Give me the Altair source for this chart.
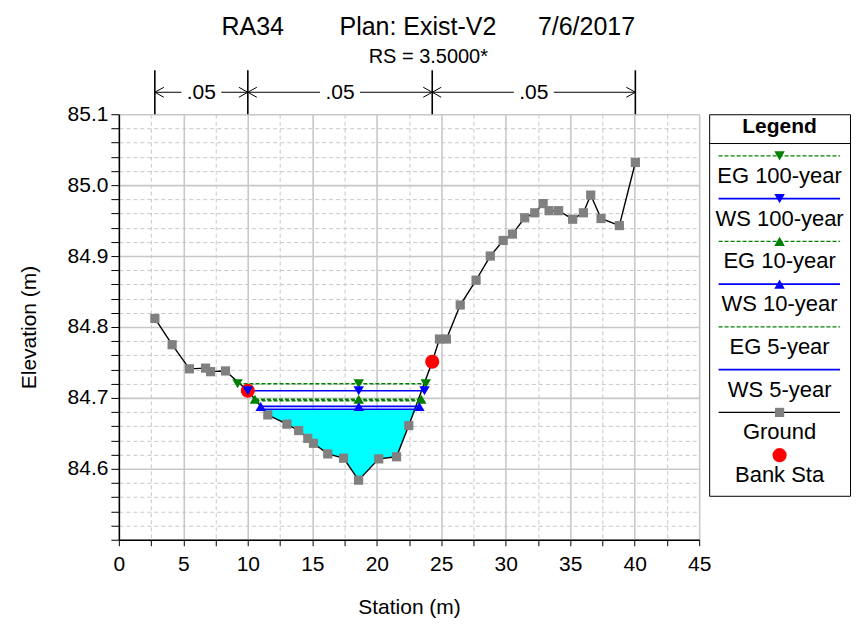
import altair as alt
import pandas as pd

# ---------------- data ----------------
TITLE = "RA34" + "\u00a0" * 8 + "Plan: Exist-V2" + "\u00a0" * 6 + "7/6/2017"
SUBTITLE = "RS = 3.5000*"

GROUND_STA = [2.79, 4.13, 5.47, 6.72, 7.11, 8.27, 10.0, 11.55, 13.03, 13.94, 14.65,
              15.09, 16.2, 17.42, 18.59, 20.15, 21.53, 22.48, 24.3, 24.86, 25.4,
              26.47, 27.7, 28.8, 29.8, 30.52, 31.47, 32.25, 32.9, 33.36, 34.1,
              35.19, 36.02, 36.59, 37.39, 38.81, 40.05]
GROUND_ELEV = [84.812, 84.775, 84.741, 84.742, 84.737, 84.738, 84.710, 84.676,
               84.663, 84.654, 84.643, 84.636, 84.621, 84.615, 84.584, 84.614,
               84.617, 84.661, 84.751, 84.783, 84.783, 84.831, 84.866, 84.900,
               84.922, 84.931, 84.954, 84.961, 84.974, 84.964, 84.964, 84.952,
               84.961, 84.986, 84.953, 84.943, 85.032]

BANK_STA = [10.0, 24.3]
BANK_ELEV = [84.710, 84.751]

PROFILES = ["EG 100-year", "WS 100-year", "EG 10-year", "WS 10-year", "EG 5-year", "WS 5-year"]
PROFILE_KIND = ["EG", "WS", "EG", "WS", "EG", "WS"]
PROFILE_ELEV = [84.720, 84.710, 84.698, 84.688, 84.696, 84.684]
PROFILE_LEFT = [9.2, 10.0, 10.55, 11.0, 10.6, 11.25]
PROFILE_RIGHT = [23.8, 23.7, 23.45, 23.3, 23.4, 23.05]
MARKER_MID = 18.6
MARKED_PROFILES = PROFILES[:4]

N_BREAKS = [2.79, 10.0, 24.3, 40.05]
N_VALUES = [".05", ".05", ".05"]

X_TICKS = [0, 2.5, 5, 7.5, 10, 12.5, 15, 17.5, 20, 22.5, 25, 27.5, 30, 32.5, 35,
           37.5, 40, 42.5, 45]
Y_TICKS = [84.50, 84.52, 84.54, 84.56, 84.58, 84.60, 84.62, 84.64, 84.66, 84.68,
           84.70, 84.72, 84.74, 84.76, 84.78, 84.80, 84.82, 84.84, 84.86, 84.88,
           84.90, 84.92, 84.94, 84.96, 84.98, 85.00, 85.02, 85.04, 85.06, 85.08, 85.10]

LEGEND_ITEMS = ["EG 100-year", "WS 100-year", "EG 10-year", "WS 10-year",
                "EG 5-year", "WS 5-year", "Ground", "Bank Sta"]
LEGEND_KIND = ["EG", "WS", "EG", "WS", "EG", "WS", "Ground", "Bank"]

# ---------------- styles ----------------
GREEN = "#008000"
BLUE = "#0000ff"
CYAN = "#00ffff"
GREY = "#808080"
RED = "#ff0000"
FONT = "Liberation Sans"
TRI_SIZE = 110
SQ_SIZE = 85
CIRC_SIZE = 200

# ---------------- tables ----------------
ground = pd.DataFrame({"sta": GROUND_STA, "elev": GROUND_ELEV})
bank = pd.DataFrame({"sta": BANK_STA, "elev": BANK_ELEV})

rows = []
for name, kind, el, l, r in zip(PROFILES, PROFILE_KIND, PROFILE_ELEV, PROFILE_LEFT, PROFILE_RIGHT):
    rows.append({"profile": name, "kind": kind, "sta": l, "elev": el})
    rows.append({"profile": name, "kind": kind, "sta": r, "elev": el})
prof = pd.DataFrame(rows)

mrows = []
for name, kind, el, l, r in zip(PROFILES, PROFILE_KIND, PROFILE_ELEV, PROFILE_LEFT, PROFILE_RIGHT):
    if name in MARKED_PROFILES:
        for s in (l, MARKER_MID, r):
            mrows.append({"profile": name, "kind": kind, "sta": s, "elev": el})
markers = pd.DataFrame(mrows)

ws5_el, ws5_l, ws5_r = PROFILE_ELEV[5], PROFILE_LEFT[5], PROFILE_RIGHT[5]
fsta = [ws5_l] + [s for s in GROUND_STA if ws5_l < s < ws5_r] + [ws5_r]
felev = [ws5_el] + [e for s, e in zip(GROUND_STA, GROUND_ELEV) if ws5_l < s < ws5_r] + [ws5_el]
fill = pd.DataFrame({"sta": fsta, "elev": felev, "top": [ws5_el] * len(fsta)})

segs = pd.DataFrame({"sta": N_BREAKS[:-1], "sta_end": N_BREAKS[1:], "label": N_VALUES})
breaks = pd.DataFrame({"sta": N_BREAKS})

# ---------------- scales / axes ----------------
xscale = alt.Scale(domain=[0, 45], nice=False, zero=False)
yscale = alt.Scale(domain=[84.5, 85.1], nice=False, zero=False)

Y_MAJOR = "abs(datum.value*10 - round(datum.value*10)) < 0.001"

xaxis = alt.Axis(
    values=X_TICKS, title="Station (m)",
    labelExpr="datum.value % 5 === 0 ? datum.label : ''",
    grid=True,
    gridDash={"condition": {"test": "datum.value % 5 !== 0", "value": [4, 3]}, "value": []},
    gridWidth={"condition": {"test": "datum.value % 5 !== 0", "value": 1}, "value": 1.6},
    tickSize=6, labelPadding=8, titlePadding=22, labelFlush=False,
)
yaxis = alt.Axis(
    values=Y_TICKS, title="Elevation (m)",
    labelExpr=f"({Y_MAJOR}) && datum.value > 84.55 ? format(datum.value, '.1f') : ''",
    grid=True,
    gridDash={"condition": {"test": f"!({Y_MAJOR})", "value": [4, 3]}, "value": []},
    gridWidth={"condition": {"test": f"!({Y_MAJOR})", "value": 1}, "value": 1.6},
    tickSize=8, labelPadding=3, titlePadding=28, labelFlush=False,
)

X = alt.X("sta:Q", scale=xscale, axis=xaxis)
Y = alt.Y("elev:Q", scale=yscale, axis=yaxis)

kind_color = alt.Color("kind:N", scale=alt.Scale(domain=["EG", "WS"], range=[GREEN, BLUE]), legend=None)

fill_layer = alt.Chart(fill).mark_area(color=CYAN, opacity=1, interpolate="linear").encode(
    x=X, y=Y, y2="top:Q")

ground_line = alt.Chart(ground).mark_line(color="black", strokeWidth=1.4).encode(x=X, y=Y)

eg_lines = alt.Chart(prof).transform_filter("datum.kind == 'EG'").mark_line(
    color=GREEN, strokeWidth=1.4, strokeDash=[4, 2]).encode(x=X, y=Y, detail="profile:N")
ws_lines = alt.Chart(prof).transform_filter("datum.kind == 'WS'").mark_line(
    color=BLUE, strokeWidth=1.6).encode(x=X, y=Y, detail="profile:N")

ground_pts = alt.Chart(ground).mark_point(shape="square", filled=True, color=GREY,
                                          size=SQ_SIZE, opacity=1).encode(x=X, y=Y)
bank_pts = alt.Chart(bank).mark_point(shape="circle", filled=True, color=RED,
                                      size=CIRC_SIZE, opacity=1).encode(x=X, y=Y)
tri_pts = alt.Chart(markers).mark_point(filled=True, size=TRI_SIZE, opacity=1).encode(
    x=X, y=Y, color=kind_color,
    shape=alt.Shape("profile:N", scale=alt.Scale(
        domain=MARKED_PROFILES,
        range=["triangle-down", "triangle-down", "triangle-up", "triangle-up"]), legend=None))

# Manning's n annotation above the plot
n_breaks = alt.Chart(breaks).mark_rule(color="black", strokeWidth=1.6).encode(
    x=X, y=alt.value(-44), y2=alt.value(0))
seg_base = alt.Chart(segs).transform_calculate(mid="(datum.sta + datum.sta_end) / 2")
seg_left = seg_base.mark_rule(color="black", strokeWidth=1, x2Offset=-20).encode(
    x=X, x2="mid:Q", y=alt.value(-22))
seg_right = seg_base.mark_rule(color="black", strokeWidth=1, xOffset=20).encode(
    x=alt.X("mid:Q", scale=xscale, axis=xaxis), x2="sta_end:Q", y=alt.value(-22))
seg_text = seg_base.mark_text(fontSize=21, baseline="middle", align="center", font=FONT).encode(
    x=alt.X("mid:Q", scale=xscale, axis=xaxis), y=alt.value(-21), text="label:N")
arrow_l = seg_base.mark_point(shape="M0,0L1.8,-1M0,0L1.8,1", size=100, filled=False,
                              color="black", strokeWidth=1, opacity=1).encode(
    x=X, y=alt.value(-22))
arrow_r = seg_base.mark_point(shape="M0,0L-1.8,-1M0,0L-1.8,1", size=100, filled=False,
                              color="black", strokeWidth=1, opacity=1).encode(
    x=alt.X("sta_end:Q", scale=xscale, axis=xaxis), y=alt.value(-22))

main = alt.layer(
    fill_layer, ground_line, eg_lines, ws_lines, ground_pts, bank_pts, tri_pts,
    n_breaks, seg_left, seg_right, seg_text, arrow_l, arrow_r,
).properties(width=581, height=426)

# ---------------- legend panel ----------------
leg = pd.DataFrame({"item": LEGEND_ITEMS, "kind": LEGEND_KIND, "row": list(range(len(LEGEND_ITEMS)))})
LX = alt.Scale(domain=[0, 1], nice=False, zero=False)
LYS = alt.Scale(domain=[-0.974, 7.95], reverse=True, nice=False, zero=False)
LY = alt.Y("row:Q", scale=LYS, axis=None)

lbase = alt.Chart(leg).transform_calculate(lx0="0.067", lx1="0.929", lxm="0.5")

def leg_line(kind, color, dash=None):
    kw = dict(color=color, strokeWidth=1.4 if kind != "WS" else 1.6)
    if dash:
        kw["strokeDash"] = dash
    return lbase.transform_filter(f"datum.kind == '{kind}'").mark_rule(**kw).encode(
        x=alt.X("lx0:Q", scale=LX, axis=None), x2="lx1:Q", y=LY)

leg_eg = leg_line("EG", GREEN, [4, 2])
leg_ws = leg_line("WS", BLUE)
leg_gr = leg_line("Ground", "black")

leg_tri = lbase.transform_filter(alt.FieldOneOfPredicate(field="item", oneOf=MARKED_PROFILES)).mark_point(
    filled=True, size=TRI_SIZE, opacity=1).encode(
    x=alt.X("lxm:Q", scale=LX, axis=None), y=LY,
    color=alt.Color("kind:N", scale=alt.Scale(domain=["EG", "WS"], range=[GREEN, BLUE]), legend=None),
    shape=alt.Shape("item:N", scale=alt.Scale(
        domain=MARKED_PROFILES,
        range=["triangle-down", "triangle-down", "triangle-up", "triangle-up"]), legend=None))
leg_sq = lbase.transform_filter("datum.kind == 'Ground'").mark_point(
    shape="square", filled=True, color=GREY, size=SQ_SIZE, opacity=1).encode(
    x=alt.X("lxm:Q", scale=LX, axis=None), y=LY)
leg_circ = lbase.transform_filter("datum.kind == 'Bank'").mark_point(
    shape="circle", filled=True, color=RED, size=CIRC_SIZE, opacity=1).encode(
    x=alt.X("lxm:Q", scale=LX, axis=None), y=LY)
leg_txt = lbase.mark_text(fontSize=22, dy=20, baseline="middle", align="center", font=FONT).encode(
    x=alt.X("lxm:Q", scale=LX, axis=None), y=LY, text="item:N")

hdr = pd.DataFrame({"t": ["Legend"]})
leg_hdr = alt.Chart(hdr).transform_calculate(lxm="0.5", row="-0.677").mark_text(
    fontSize=21, fontWeight="bold", baseline="middle", align="center", font=FONT).encode(
    x=alt.X("lxm:Q", scale=LX, axis=None), y=LY, text="t:N")
leg_sep = alt.Chart(hdr).transform_calculate(lx0="0", lx1="1", row="-0.289").mark_rule(
    color="black", strokeWidth=1).encode(
    x=alt.X("lx0:Q", scale=LX, axis=None), x2="lx1:Q", y=LY)

legend_panel = alt.layer(
    leg_sep, leg_hdr, leg_eg, leg_ws, leg_gr, leg_tri, leg_sq, leg_circ, leg_txt
).properties(width=141, height=382,
             view=alt.ViewBackground(stroke="black", strokeWidth=1, fill="white"))

chart = alt.hconcat(main, legend_panel, spacing=10, bounds="flush").properties(
    title=alt.TitleParams(text=TITLE, subtitle=SUBTITLE, fontSize=25, subtitleFontSize=20,
                          font=FONT, subtitleFont=FONT, fontWeight="normal",
                          anchor="middle", frame="bounds", offset=2, subtitlePadding=7,
                          dx=-6, color="black", subtitleColor="black"),
    padding={"left": 9, "top": 6, "right": 0, "bottom": 2},
).configure(font=FONT).configure_view(stroke="transparent").configure_axis(
    domainColor="black", domainWidth=1.5, tickColor="black", tickWidth=1,
    labelColor="black", titleColor="black", labelFontSize=21, titleFontSize=21,
    titleFontWeight="normal", labelFont=FONT, titleFont=FONT, gridColor="#c8c8c8",
)

chart.save("out.html", embed_options={"renderer": "svg", "actions": False})
